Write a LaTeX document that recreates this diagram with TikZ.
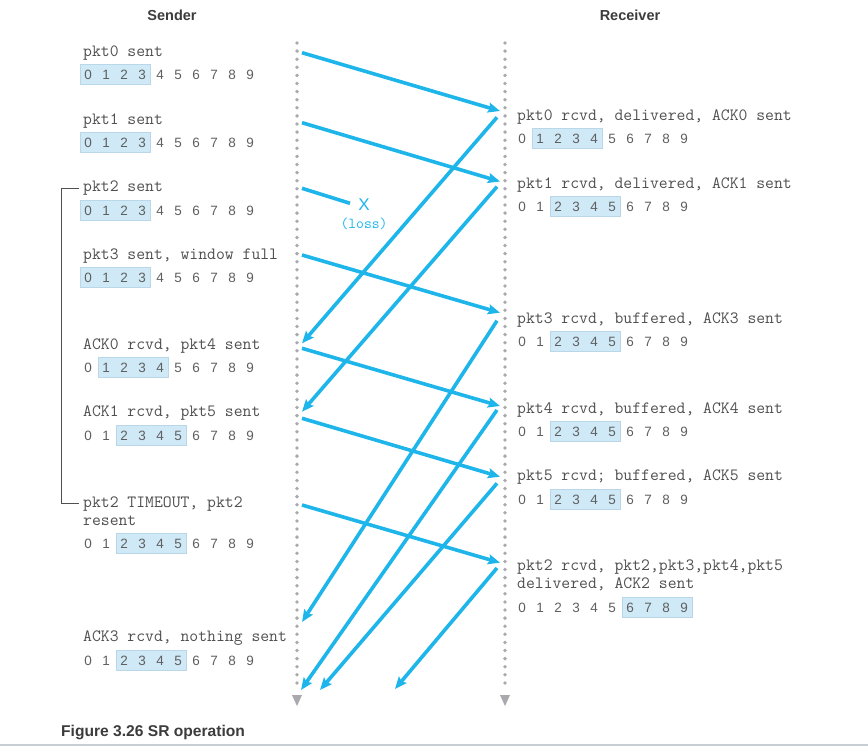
\documentclass[tikz,border=0pt]{standalone}
\usepackage{fontspec}
\setmainfont{Liberation Sans}
\setsansfont{Liberation Sans}
\usetikzlibrary{arrows.meta}
\definecolor{arr}{RGB}{30,182,234}
\definecolor{txt}{RGB}{80,80,80}
\definecolor{dgt}{RGB}{95,95,95}
\definecolor{winfill}{RGB}{207,233,247}
\definecolor{winedge}{RGB}{185,215,232}
\definecolor{dotc}{RGB}{170,170,174}
\definecolor{hdrc}{RGB}{60,60,60}
\definecolor{rulec}{RGB}{200,207,210}
\tikzset{
  lbl/.style={anchor=base west, inner sep=0pt, text=txt, font=\fontsize{17.2}{20}\ttfamily},
  digs/.style={anchor=base west, inner sep=0pt, text=dgt, font=\fontsize{13.5}{16}\sffamily},
  winbox/.style={fill=winfill, draw=winedge, line width=0.6pt},
  msg/.style={draw=arr, line width=3.6pt, -{Stealth[length=12pt,width=10pt,inset=2pt]}},
  lostmsg/.style={draw=arr, line width=3.6pt},
  lifeline/.style={dotc, line width=3.8pt, line cap=round, dash pattern=on 0pt off 8.1pt},
  lifeend/.style={fill=dotc, draw=none},
  hdr/.style={inner sep=0pt, text=hdrc, font=\fontsize{14.5}{16}\selectfont\bfseries},
  capt/.style={anchor=west, inner sep=0pt, text=hdrc, font=\fontsize{15.6}{18}\selectfont\bfseries},
  bracket/.style={draw=txt, line width=0.9pt},
  lossmark/.style={inner sep=0pt, text=arr},
}
\newcommand\dg[1]{\makebox[18pt][c]{#1}}
% name, x0 (text start), y (centre), first, last
\newcommand\winrow[5]{%
  \draw[winbox] ({#2+5+18*#4-8},{#3-10}) rectangle ({#2+5+18*#5+8},{#3+10});
  \node[digs] (#1) at ({#2-4},{#3+5}) {\dg0\dg1\dg2\dg3\dg4\dg5\dg6\dg7\dg8\dg9};
}
\begin{document}
\begin{tikzpicture}[x=1pt,y=-1pt]
\useasboundingbox (0,0) rectangle (868,747);
\fill[white] (0,0) rectangle (868,747);

% headers
\node[hdr] (hS) at (172,15) {Sender};
\node[hdr] (hR) at (630,15) {Receiver};

% lifelines
\coordinate (Stop) at (297,43);
\coordinate (Sbot) at (297,690);
\coordinate (Rtop) at (505,43);
\coordinate (Rbot) at (505,690);
\draw[lifeline] (Stop) -- (Sbot);
\draw[lifeline] (Rtop) -- (Rbot);
\fill[lifeend] (292,695) -- (302,695) -- (297,706) -- cycle;
\fill[lifeend] (500,695) -- (510,695) -- (505,706) -- cycle;

% sender texts
\node[lbl] (s0) at (83,56.5) {pkt0 sent};
\winrow{s0w}{83}{74}{0}{3}
\node[lbl] (s1) at (83,124) {pkt1 sent};
\winrow{s1w}{83}{142}{0}{3}
\node[lbl] (s2) at (83,191) {pkt2 sent};
\winrow{s2w}{83}{210}{0}{3}
\node[lbl] (s3) at (83,259) {pkt3 sent, window full};
\winrow{s3w}{83}{277}{0}{3}
\node[lbl] (s4) at (83,349) {ACK0 rcvd, pkt4 sent};
\winrow{s4w}{83}{367.5}{1}{4}
\node[lbl] (s5) at (83,416) {ACK1 rcvd, pkt5 sent};
\winrow{s5w}{83}{435}{2}{5}
\node[lbl] (s6) at (83,507) {pkt2 TIMEOUT, pkt2};
\node[lbl] (s6b) at (83,525) {resent};
\winrow{s6w}{83}{543}{2}{5}
\node[lbl] (s7) at (83,641.5) {ACK3 rcvd, nothing sent};
\winrow{s7w}{83}{660}{2}{5}

% receiver texts
\node[lbl] (r0) at (517,120) {pkt0 rcvd, delivered, ACK0 sent};
\winrow{r0w}{517}{138.5}{1}{4}
\node[lbl] (r1) at (517,188.5) {pkt1 rcvd, delivered, ACK1 sent};
\winrow{r1w}{517}{206.5}{2}{5}
\node[lbl] (r3) at (517,323) {pkt3 rcvd, buffered, ACK3 sent};
\winrow{r3w}{517}{341.5}{2}{5}
\node[lbl] (r4) at (517,413) {pkt4 rcvd, buffered, ACK4 sent};
\winrow{r4w}{517}{431.5}{2}{5}
\node[lbl] (r5) at (517,480.5) {pkt5 rcvd; buffered, ACK5 sent};
\winrow{r5w}{517}{499.5}{2}{5}
\node[lbl] (r2) at (517,570.5) {pkt2 rcvd, pkt2,pkt3,pkt4,pkt5};
\node[lbl] (r2b) at (517,588.5) {delivered, ACK2 sent};
\winrow{r2w}{517}{607}{6}{9}

% bracket for pkt2 timer
\coordinate (bt) at (79,188);
\coordinate (btc) at (61,188);
\coordinate (bbc) at (61,503);
\coordinate (bb) at (79,503);
\draw[bracket] (bt) -- (btc) -- (bbc) -- (bb);

% data packet coordinates
\coordinate (D0a) at (302,52.7);   \coordinate (D0b) at (500,111);
\coordinate (D1a) at (302,122.7);  \coordinate (D1b) at (500,181.5);
\coordinate (D2a) at (302,188.3);  \coordinate (D2b) at (350,203.3);
\coordinate (D3a) at (302,255);    \coordinate (D3b) at (500,312.7);
\coordinate (D4a) at (302,348.3);  \coordinate (D4b) at (500,406);
\coordinate (D5a) at (302,418.3);  \coordinate (D5b) at (500,476.7);
\coordinate (D6a) at (302,505);    \coordinate (D6b) at (500,562.7);
% ack coordinates
\coordinate (A0a) at (497,117.3);  \coordinate (A0b) at (302,343.3);
\coordinate (A1a) at (497,186.7);  \coordinate (A1b) at (302,411.7);
\coordinate (A3a) at (497,320.7);  \coordinate (A3b) at (302,622);
\coordinate (A4a) at (497,410);    \coordinate (A4b) at (301,690);
\coordinate (A5a) at (497,483.3);  \coordinate (A5b) at (320,690);
\coordinate (A2a) at (497,568);    \coordinate (A2b) at (395,689);

\draw[msg] (D0a) -- (D0b);
\draw[msg] (D1a) -- (D1b);
\draw[lostmsg] (D2a) -- (D2b);
\draw[msg] (D3a) -- (D3b);
\draw[msg] (D4a) -- (D4b);
\draw[msg] (D5a) -- (D5b);
\draw[msg] (D6a) -- (D6b);
\draw[msg] (A0a) -- (A0b);
\draw[msg] (A1a) -- (A1b);
\draw[msg] (A3a) -- (A3b);
\draw[msg] (A4a) -- (A4b);
\draw[msg] (A5a) -- (A5b);
\draw[msg] (A2a) -- (A2b);

% loss marker
\node[lossmark, font=\fontsize{17}{18}\sffamily] (X) at (364,205) {X};
\node[lossmark, font=\fontsize{15.2}{16}\ttfamily] (loss) at (364,223.5) {(loss)};

% caption and rule
\node[capt] (cap) at (61,732) {Figure 3.26 SR operation};
\coordinate (rl) at (0,745);
\coordinate (rr) at (868,745);
\draw[rulec, line width=1.5pt] (rl) -- (rr);
\end{tikzpicture}
\end{document}
